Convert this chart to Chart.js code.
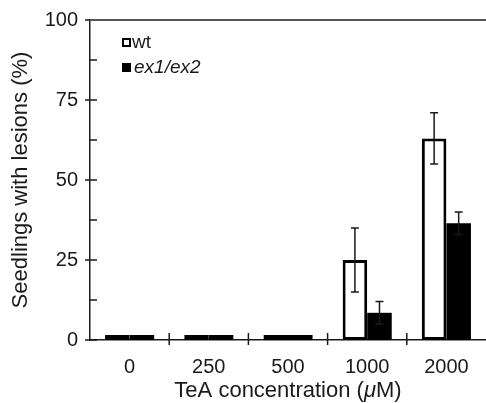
<!DOCTYPE html>
<html>
<head>
    <title>TeA lesions</title>
    <script src="https://cdn.jsdelivr.net/npm/chart.js"></script>
    <style>
        body {
            margin: 0;
            background: #fff;
            overflow: hidden;
        }
        canvas {
            display: block;
        }
    </style>
</head>
<body>
    <canvas id="lesionChart" width="486" height="403"></canvas>

    <script>
        const concentrations = ["0", "250", "500", "1000", "2000"];
        const seriesNames = ["wt", "ex1/ex2"];
        const wtValues = [0, 0, 0, 25, 63];
        const wtErrors = [0, 0, 0, 10, 8];
        const exValues = [0, 0, 0, 8.5, 36.5];
        const exErrors = [0, 0, 0, 3.5, 3.5];
        const yTicks = [0, 25, 50, 75, 100];

        const FONT = "'Liberation Sans', Arial, sans-serif";
        const INK = "#1a1a1a";

        // error bars, axis tick marks, legend and x title
        const extras = {
            id: "extras",
            afterDatasetsDraw(chart) {
                const ctx = chart.ctx;
                const y = chart.scales.y;
                const errs = [wtErrors, exErrors];
                ctx.save();
                ctx.strokeStyle = INK;
                ctx.lineWidth = 1.5;
                chart.data.datasets.forEach((ds, di) => {
                    chart.getDatasetMeta(di).data.forEach((bar, i) => {
                        const e = errs[di][i];
                        if (!e) return;
                        const top = y.getPixelForValue(ds.data[i] + e);
                        const bot = y.getPixelForValue(ds.data[i] - e);
                        ctx.beginPath();
                        ctx.moveTo(bar.x, top);
                        ctx.lineTo(bar.x, bot);
                        ctx.moveTo(bar.x - 4, top);
                        ctx.lineTo(bar.x + 4, top);
                        ctx.moveTo(bar.x - 4, bot);
                        ctx.lineTo(bar.x + 4, bot);
                        ctx.stroke();
                    });
                });
                ctx.restore();
            },
            afterDraw(chart) {
                const ctx = chart.ctx;
                const area = chart.chartArea;
                const x = chart.scales.x;
                const y = chart.scales.y;
                ctx.save();
                ctx.strokeStyle = INK;
                ctx.lineWidth = 1.5;
                ctx.beginPath();
                // y ticks, major cross the axis, minor inside only
                yTicks.forEach((v, i) => {
                    const py = y.getPixelForValue(v);
                    ctx.moveTo(area.left - 5, py);
                    ctx.lineTo(area.left + 7, py);
                    if (i > 0) {
                        const pm = y.getPixelForValue((v + yTicks[i - 1]) / 2);
                        ctx.moveTo(area.left, pm);
                        ctx.lineTo(area.left + 7, pm);
                    }
                });
                // category separators on the x axis
                for (let i = 0; i < concentrations.length - 1; i++) {
                    const px = (x.getPixelForValue(i) + x.getPixelForValue(i + 1)) / 2;
                    ctx.moveTo(px, area.bottom - 7);
                    ctx.lineTo(px, area.bottom + 5);
                }
                ctx.stroke();

                // top frame line
                ctx.strokeStyle = "#555";
                ctx.lineWidth = 2;
                ctx.beginPath();
                ctx.moveTo(area.left, area.top);
                ctx.lineTo(area.right, area.top);
                ctx.stroke();

                // legend
                ctx.lineWidth = 2;
                ctx.strokeStyle = "#000";
                ctx.fillStyle = "#fff";
                ctx.fillRect(123, 39, 7, 7);
                ctx.strokeRect(123, 39, 7, 7);
                ctx.fillStyle = "#000";
                ctx.fillRect(122, 63, 9, 9);
                ctx.fillStyle = INK;
                ctx.textBaseline = "middle";
                ctx.textAlign = "left";
                ctx.font = "19px " + FONT;
                ctx.fillText(seriesNames[0], 132, 43);
                ctx.font = "italic 19px " + FONT;
                ctx.fillText(seriesNames[1], 134, 68);

                // x axis title with italic mu
                const parts = [["TeA concentration (", ""], ["\u03bc", "italic "], ["M)", ""]];
                let total = 0;
                parts.forEach(p => {
                    ctx.font = p[1] + "22px " + FONT;
                    total += ctx.measureText(p[0]).width;
                });
                let tx = (area.left + area.right) / 2 - total / 2;
                parts.forEach(p => {
                    ctx.font = p[1] + "22px " + FONT;
                    ctx.fillText(p[0], tx, 391);
                    tx += ctx.measureText(p[0]).width;
                });
                ctx.restore();
            }
        };

        const ctx = document.getElementById("lesionChart").getContext("2d");
        new Chart(ctx, {
            type: "bar",
            data: {
                labels: concentrations,
                datasets: [{
                    label: seriesNames[0],
                    data: wtValues,
                    backgroundColor: "#fff",
                    borderColor: "#000",
                    borderWidth: 3,
                    borderSkipped: false
                }, {
                    label: seriesNames[1],
                    data: exValues,
                    backgroundColor: "#000",
                    borderWidth: 0
                }]
            },
            options: {
                responsive: false,
                animation: false,
                devicePixelRatio: 1,
                layout: { padding: { top: 20, right: 0, left: 0, bottom: 0 } },
                datasets: {
                    bar: {
                        barPercentage: 1,
                        categoryPercentage: 0.62,
                        minBarLength: 5,
                        clip: false
                    }
                },
                plugins: {
                    legend: { display: false },
                    tooltip: { enabled: false }
                },
                scales: {
                    x: {
                        grid: { display: false },
                        border: { display: true, color: INK, width: 1.5 },
                        ticks: {
                            color: INK,
                            font: { family: FONT, size: 20 },
                            padding: 7,
                            maxRotation: 0
                        },
                        afterFit(scale) { scale.height = 63; }
                    },
                    y: {
                        min: 0,
                        max: 100,
                        grid: { display: false },
                        border: { display: true, color: INK, width: 1.5 },
                        ticks: {
                            stepSize: 25,
                            color: INK,
                            font: { family: FONT, size: 20 },
                            padding: 4
                        },
                        title: {
                            display: true,
                            text: "Seedlings with lesions (%)",
                            color: INK,
                            font: { family: FONT, size: 22 },
                            padding: { top: 8, bottom: 0 }
                        },
                        afterFit(scale) { scale.width = 90; }
                    }
                }
            },
            plugins: [extras]
        });
    </script>
</body>
</html>
